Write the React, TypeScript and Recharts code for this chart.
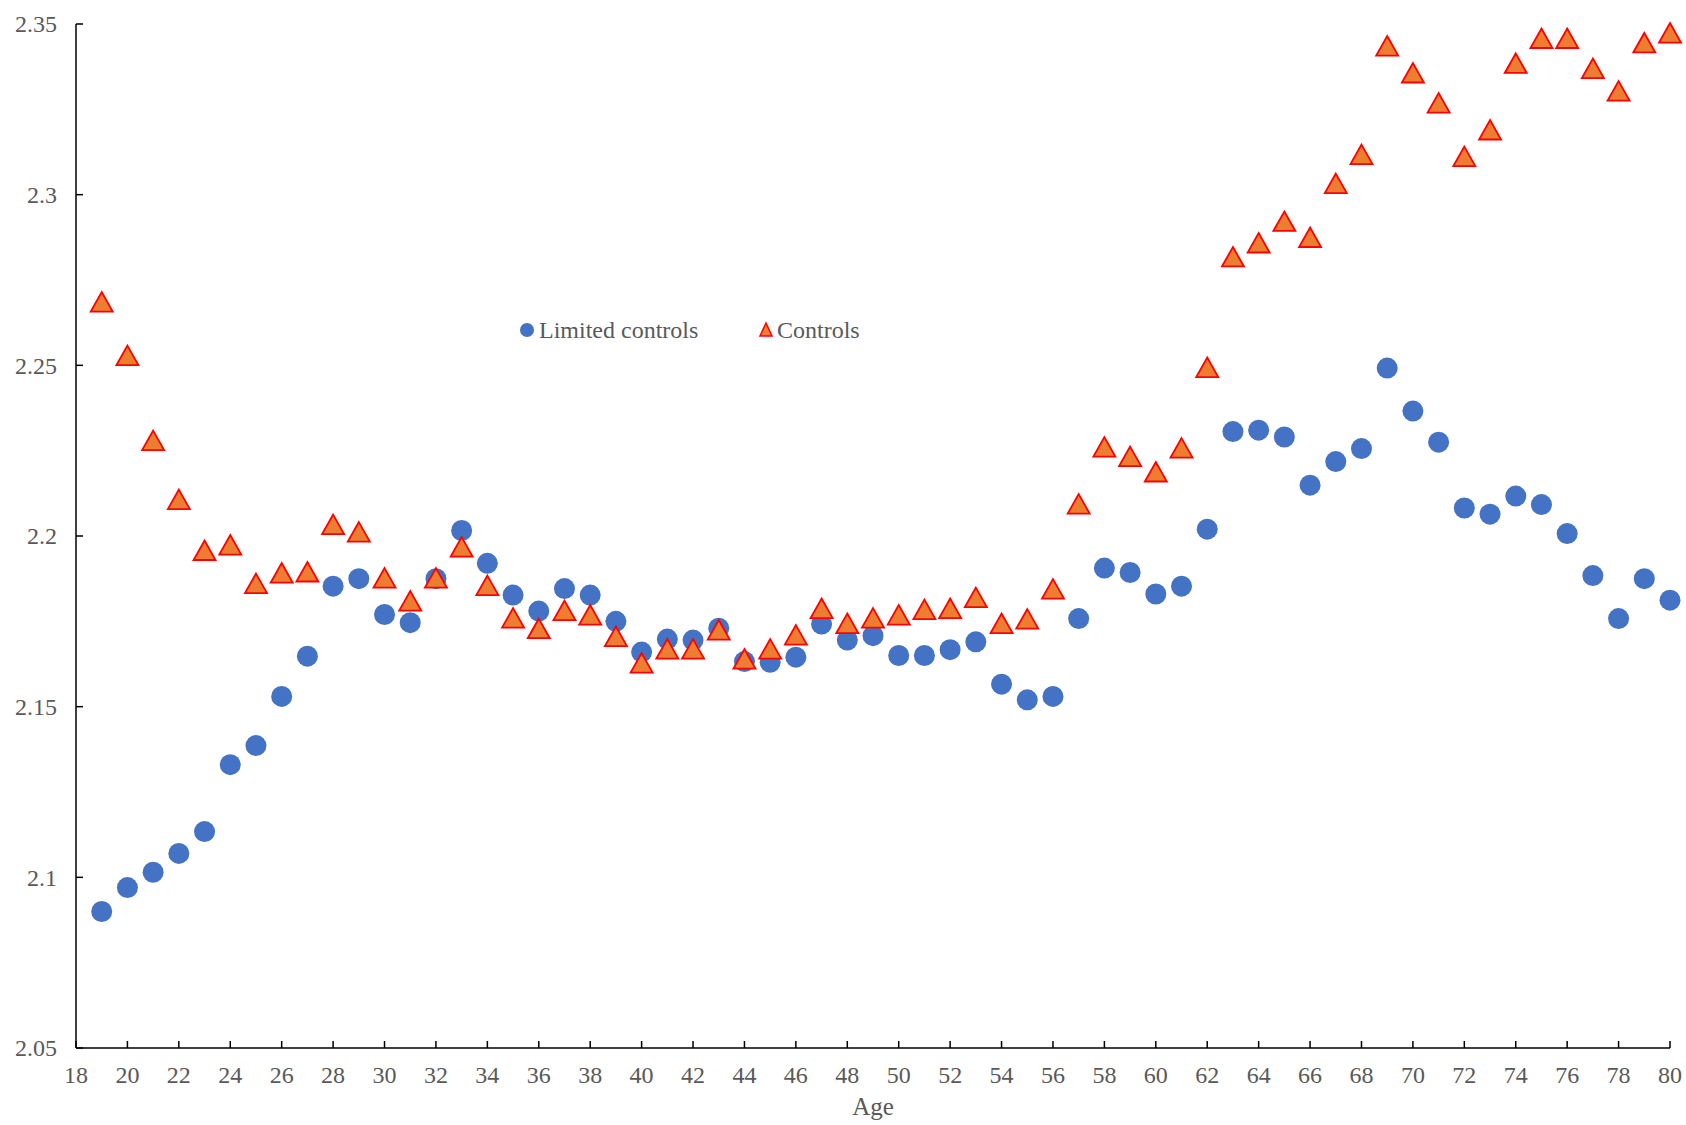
import { ScatterChart, Scatter, XAxis, YAxis } from "recharts";

const ages = [
  19, 20, 21, 22, 23, 24, 25, 26, 27, 28, 29, 30, 31, 32, 33, 34, 35, 36, 37, 38, 39, 40, 41, 42, 43, 44, 45, 46, 47, 48, 49,
  50, 51, 52, 53, 54, 55, 56, 57, 58, 59, 60, 61, 62, 63, 64, 65, 66, 67, 68, 69, 70, 71, 72, 73, 74, 75, 76, 77, 78, 79, 80,
];

const limitedControls = [
  2.09, 2.097, 2.1015, 2.107, 2.1134, 2.133, 2.1386, 2.153, 2.1648, 2.1853, 2.1875, 2.177, 2.1746, 2.1875, 2.2016, 2.192,
  2.1827, 2.178, 2.1846, 2.1827, 2.175, 2.166, 2.1698, 2.1695, 2.173, 2.1632, 2.163, 2.1645, 2.1742, 2.1695, 2.1708, 2.165,
  2.165, 2.1667, 2.169, 2.1566, 2.152, 2.153, 2.1758, 2.1906, 2.1893, 2.183, 2.1853, 2.202, 2.2306, 2.231, 2.229, 2.2149,
  2.2218, 2.2256, 2.2492, 2.2366, 2.2275, 2.2082, 2.2064, 2.2117, 2.2092, 2.2007, 2.1884, 2.1758, 2.1875, 2.1812,
];

const controls = [
  2.2684, 2.2527, 2.2278, 2.2105, 2.1956, 2.1972, 2.1859, 2.189, 2.1893, 2.2032, 2.201, 2.1875, 2.1808, 2.1875, 2.1966,
  2.1853, 2.1758, 2.1727, 2.178, 2.1767, 2.1704, 2.1626, 2.1667, 2.1667, 2.1723, 2.1638, 2.1667, 2.1708, 2.1786, 2.1742,
  2.1758, 2.1767, 2.1783, 2.1786, 2.1818, 2.1742, 2.1755, 2.1843, 2.2092, 2.2259, 2.2231, 2.2186, 2.2256, 2.2492, 2.2816,
  2.2857, 2.292, 2.2873, 2.3031, 2.3116, 2.3434, 2.3355, 2.3267, 2.311, 2.3188, 2.3383, 2.3456, 2.3456, 2.3368, 2.3302,
  2.3443, 2.3472,
];

const xTicks = [18, 20, 22, 24, 26, 28, 30, 32, 34, 36, 38, 40, 42, 44, 46, 48, 50, 52, 54, 56, 58, 60, 62, 64, 66, 68, 70, 72, 74, 76, 78, 80];
const yTicks = [2.05, 2.1, 2.15, 2.2, 2.25, 2.3, 2.35];

const limitedData = ages.map((age, i) => ({ age, value: limitedControls[i] }));
const controlsData = ages.map((age, i) => ({ age, value: controls[i] }));

const FONT = "'Liberation Serif', 'Times New Roman', serif";
const TEXT = "#595959";
const BLUE = "#4472C4";
const ORANGE = "#ED7D31";
const RED = "#FF0000";

const Circle = (props: any) => <circle cx={props.cx} cy={props.cy} r={10.5} fill={BLUE} />;

const Triangle = (props: any) => {
  const { cx, cy } = props;
  return (
    <path
      d={`M${cx},${cy - 10.5} L${cx + 11},${cy + 9} L${cx - 11},${cy + 9} Z`}
      fill={ORANGE}
      stroke={RED}
      strokeWidth={1.8}
    />
  );
};

const YTick = (props: any) => {
  const { x, y, payload } = props;
  return (
    <g>
      <line x1={x} x2={x + 7} y1={y} y2={y} stroke="#000" strokeWidth={1.5} />
      <text x={x - 19} y={y} dy="0.35em" textAnchor="end" fill={TEXT} fontSize={24} fontFamily={FONT}>
        {String(Number(payload.value.toFixed(2)))}
      </text>
    </g>
  );
};

const XTick = (props: any) => {
  const { x, y, payload } = props;
  return (
    <g>
      <line x1={x} x2={x} y1={y} y2={y - 7} stroke="#000" strokeWidth={1.5} />
      <text x={x} y={y + 27} dy="0.35em" textAnchor="middle" fill={TEXT} fontSize={24} fontFamily={FONT}>
        {payload.value}
      </text>
    </g>
  );
};

export default function App() {
  return (
    <div style={{ position: "absolute", left: 0, top: 0, width: 1686, height: 1125, background: "#fff" }}>
      <ScatterChart width={1686} height={1125} margin={{ top: 24, right: 16, bottom: 0, left: 0 }}>
        <XAxis
          type="number"
          dataKey="age"
          domain={[18, 80]}
          ticks={xTicks}
          interval={0}
          height={77}
          tickSize={0}
          tickMargin={0}
          tickLine={false}
          axisLine={{ stroke: "#000", strokeWidth: 1.5 }}
          tick={<XTick />}
        />
        <YAxis
          type="number"
          dataKey="value"
          domain={[2.05, 2.35]}
          ticks={yTicks}
          interval={0}
          width={76}
          tickSize={0}
          tickMargin={0}
          tickLine={false}
          axisLine={{ stroke: "#000", strokeWidth: 1.5 }}
          tick={<YTick />}
        />
        <Scatter name="Limited controls" data={limitedData} shape={<Circle />} isAnimationActive={false} />
        <Scatter name="Controls" data={controlsData} shape={<Triangle />} isAnimationActive={false} />
      </ScatterChart>
      <svg width={1686} height={1125} style={{ position: "absolute", left: 0, top: 0, pointerEvents: "none" }}>
        <text x={873} y={1106} dy="0.35em" textAnchor="middle" fill={TEXT} fontSize={25} fontFamily={FONT}>
          Age
        </text>
        <circle cx={527} cy={330} r={7} fill={BLUE} />
        <text x={539} y={330} dy="0.35em" fill={TEXT} fontSize={24} fontFamily={FONT}>
          Limited controls
        </text>
        <path d="M766,323 L772,336 L760,336 Z" fill={ORANGE} stroke={RED} strokeWidth={1.5} />
        <text x={777} y={330} dy="0.35em" fill={TEXT} fontSize={24} fontFamily={FONT}>
          Controls
        </text>
      </svg>
    </div>
  );
}
